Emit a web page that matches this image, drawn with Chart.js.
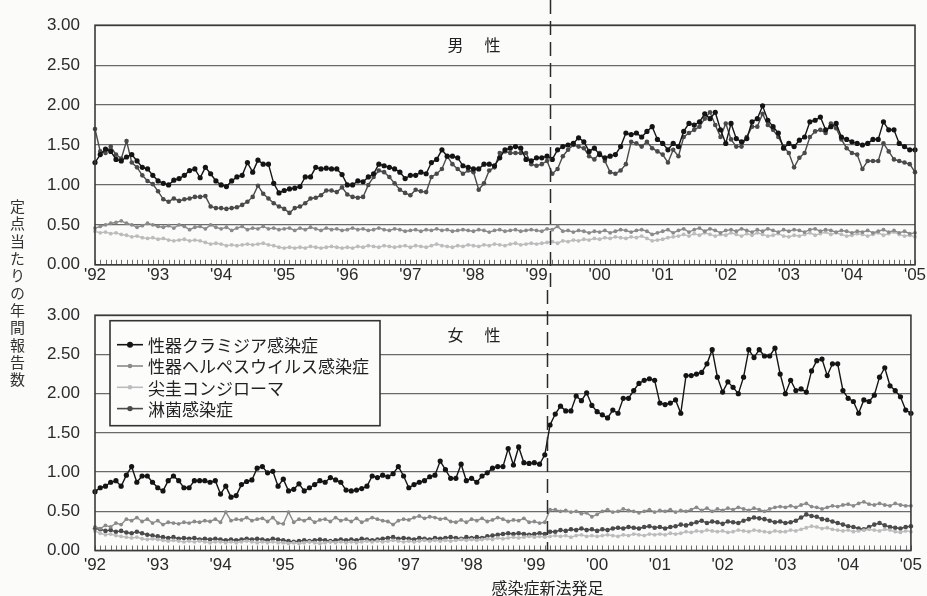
<!DOCTYPE html>
<html lang="ja">
<head>
<meta charset="utf-8">
<title>性感染症 定点当たり年間報告数</title>
<script src="https://cdn.jsdelivr.net/npm/chart.js@4.4.1/dist/chart.umd.min.js"></script>
<style>
  html, body { margin: 0; padding: 0; background: #fbfbf9; }
  #page { position: relative; width: 927px; height: 596px; overflow: hidden; }
  canvas { position: absolute; left: 0; }
  #male { top: 0; }
  #female { top: 290px; }
  #yTitle {
    position: absolute; left: 10px; top: 199px;
    writing-mode: vertical-rl;
    font-family: "Noto Sans CJK JP"; font-size: 15px; line-height: 15px;
    letter-spacing: 2.3px; color: #333;
  }
</style>
</head>
<body>
<div id="page">
  <canvas id="male" width="927" height="290"></canvas>
  <canvas id="female" width="927" height="306"></canvas>
  <div id="yTitle">定点当たりの年間報告数</div>
</div>
<script>
// Monthly reports per sentinel site, Jan 1992 – Jan 2005 (one value per month)
const yearLabels = ["'92","'93","'94","'95","'96","'97","'98","'99","'00","'01","'02","'03","'04","'05"];
const seriesNames = ['性器クラミジア感染症', '性器ヘルペスウイルス感染症', '尖圭コンジローマ', '淋菌感染症'];
const panelTitles = ['男 性', '女 性'];
const lawCaption = '感染症新法発足';
const lawMonth = 86.5; // April 1999, months after Jan 1992

const maleChlamydia = [
  1.28,1.38,1.45,1.42,1.32,1.30,1.35,1.38,1.30,1.22,1.20,1.12,
  1.05,1.02,1.00,1.06,1.08,1.12,1.18,1.20,1.09,1.22,1.14,1.05,
  1.00,0.98,1.05,1.10,1.12,1.28,1.16,1.31,1.26,1.26,1.02,0.90,
  0.93,0.95,0.96,0.98,1.10,1.10,1.22,1.20,1.21,1.20,1.20,1.13,
  1.00,1.00,1.05,1.04,1.10,1.14,1.26,1.24,1.22,1.20,1.16,1.08,
  1.12,1.12,1.16,1.14,1.28,1.32,1.44,1.36,1.36,1.34,1.24,1.22,
  1.20,1.20,1.26,1.26,1.24,1.34,1.44,1.46,1.48,1.46,1.32,1.30,
  1.34,1.34,1.36,1.32,1.44,1.48,1.50,1.52,1.59,1.54,1.42,1.46,
  1.38,1.34,1.36,1.38,1.48,1.65,1.63,1.65,1.60,1.67,1.73,1.57,
  1.52,1.44,1.52,1.48,1.67,1.77,1.75,1.79,1.89,1.83,1.91,1.69,
  1.52,1.77,1.58,1.54,1.58,1.79,1.83,1.99,1.81,1.73,1.65,1.46,
  1.52,1.48,1.56,1.60,1.79,1.81,1.85,1.69,1.73,1.77,1.60,1.57,
  1.54,1.52,1.50,1.52,1.57,1.57,1.79,1.69,1.69,1.52,1.48,1.44,
  1.44
];
const maleHerpes = [
  0.46,0.48,0.50,0.52,0.53,0.55,0.52,0.50,0.47,0.49,0.52,0.50,
  0.48,0.47,0.49,0.46,0.50,0.48,0.44,0.47,0.48,0.45,0.50,0.47,
  0.45,0.47,0.43,0.46,0.48,0.44,0.46,0.45,0.48,0.45,0.46,0.44,
  0.45,0.46,0.43,0.46,0.44,0.47,0.45,0.43,0.46,0.44,0.45,0.43,
  0.44,0.46,0.44,0.45,0.43,0.44,0.46,0.44,0.43,0.45,0.44,0.42,
  0.43,0.44,0.42,0.44,0.43,0.45,0.43,0.44,0.42,0.43,0.44,0.43,
  0.42,0.44,0.43,0.41,0.43,0.44,0.42,0.43,0.44,0.42,0.43,0.44,
  0.43,0.42,0.45,0.44,0.48,0.42,0.43,0.41,0.43,0.42,0.40,0.42,
  0.41,0.43,0.40,0.42,0.44,0.43,0.41,0.43,0.44,0.42,0.38,0.40,
  0.42,0.44,0.40,0.43,0.45,0.41,0.44,0.46,0.42,0.45,0.43,0.40,
  0.43,0.44,0.42,0.45,0.43,0.41,0.44,0.42,0.45,0.43,0.41,0.44,
  0.42,0.44,0.43,0.41,0.44,0.45,0.42,0.44,0.43,0.41,0.43,0.42,
  0.40,0.42,0.41,0.43,0.40,0.42,0.44,0.41,0.43,0.40,0.42,0.39,
  0.40
];
const maleCondyloma = [
  0.42,0.40,0.41,0.39,0.40,0.38,0.37,0.35,0.36,0.34,0.33,0.34,
  0.32,0.33,0.31,0.30,0.31,0.32,0.30,0.31,0.30,0.28,0.26,0.27,
  0.26,0.24,0.25,0.24,0.25,0.26,0.25,0.26,0.27,0.25,0.24,0.22,
  0.21,0.22,0.21,0.22,0.21,0.23,0.22,0.21,0.22,0.23,0.22,0.21,
  0.22,0.21,0.23,0.22,0.24,0.23,0.22,0.24,0.23,0.22,0.23,0.24,
  0.22,0.24,0.23,0.22,0.24,0.26,0.24,0.23,0.22,0.24,0.23,0.25,
  0.24,0.23,0.25,0.24,0.26,0.25,0.24,0.26,0.27,0.25,0.26,0.27,
  0.26,0.27,0.28,0.29,0.27,0.30,0.29,0.31,0.30,0.32,0.31,0.33,
  0.32,0.34,0.33,0.35,0.34,0.33,0.35,0.34,0.36,0.33,0.30,0.31,
  0.32,0.34,0.35,0.36,0.38,0.36,0.39,0.37,0.40,0.38,0.36,0.38,
  0.37,0.40,0.38,0.36,0.39,0.37,0.40,0.38,0.36,0.37,0.39,0.36,
  0.35,0.37,0.36,0.38,0.40,0.37,0.39,0.41,0.38,0.40,0.38,0.36,
  0.37,0.39,0.38,0.36,0.38,0.40,0.37,0.39,0.41,0.38,0.36,0.37,
  0.35
];
const maleGonorrhea = [
  1.70,1.42,1.40,1.48,1.38,1.33,1.55,1.28,1.22,1.12,1.05,1.01,
  0.92,0.82,0.79,0.83,0.80,0.82,0.83,0.85,0.85,0.86,0.73,0.71,
  0.71,0.70,0.71,0.72,0.75,0.79,0.85,0.99,0.89,0.83,0.77,0.73,
  0.70,0.65,0.71,0.73,0.77,0.83,0.84,0.87,0.93,0.93,0.91,0.97,
  0.88,0.85,0.84,0.85,1.00,1.10,1.18,1.16,1.10,1.02,0.94,0.90,
  0.87,0.94,0.92,0.91,1.10,1.14,1.20,1.36,1.26,1.20,1.14,1.18,
  1.16,0.94,1.02,1.18,1.22,1.40,1.42,1.40,1.40,1.40,1.40,1.26,
  1.24,1.26,1.30,1.14,1.20,1.36,1.44,1.50,1.48,1.46,1.36,1.32,
  1.40,1.30,1.16,1.14,1.18,1.26,1.54,1.52,1.48,1.54,1.46,1.42,
  1.38,1.28,1.44,1.36,1.60,1.65,1.69,1.73,1.83,1.91,1.75,1.60,
  1.77,1.57,1.48,1.48,1.60,1.73,1.73,1.89,1.75,1.69,1.60,1.48,
  1.40,1.22,1.34,1.40,1.60,1.67,1.69,1.65,1.77,1.71,1.57,1.46,
  1.40,1.38,1.20,1.30,1.30,1.30,1.52,1.42,1.32,1.30,1.28,1.26,
  1.16
];

const femaleChlamydia = [
  0.75,0.80,0.82,0.87,0.89,0.82,0.96,1.07,0.87,0.95,0.95,0.87,
  0.80,0.76,0.89,0.95,0.89,0.80,0.80,0.89,0.89,0.89,0.87,0.89,
  0.72,0.82,0.68,0.70,0.84,0.88,0.90,1.05,1.07,0.99,1.01,0.82,
  0.91,0.76,0.78,0.85,0.76,0.80,0.84,0.89,0.87,0.93,0.90,0.87,
  0.77,0.76,0.77,0.79,0.82,0.95,0.93,0.96,0.94,0.98,1.07,0.95,
  0.80,0.84,0.87,0.89,0.94,0.96,1.14,1.03,0.92,0.92,1.10,0.89,
  0.92,0.87,0.95,0.99,1.05,1.07,1.07,1.30,1.09,1.32,1.12,1.11,
  1.12,1.10,1.22,1.60,1.74,1.84,1.78,1.78,1.97,1.91,2.01,1.85,
  1.77,1.73,1.69,1.79,1.75,1.94,1.94,2.04,2.13,2.17,2.19,2.17,
  1.88,1.86,1.88,1.92,1.75,2.23,2.23,2.25,2.27,2.38,2.56,2.21,
  2.02,2.15,2.08,2.00,2.21,2.56,2.46,2.56,2.48,2.48,2.58,2.25,
  2.00,2.17,2.04,2.06,2.02,2.29,2.42,2.44,2.23,2.38,2.38,2.04,
  1.94,1.90,1.75,1.92,1.90,1.98,2.21,2.33,2.10,2.04,1.96,1.79,
  1.75
];
const femaleHerpes = [
  0.30,0.28,0.32,0.30,0.35,0.33,0.40,0.38,0.42,0.37,0.40,0.35,
  0.38,0.33,0.36,0.35,0.34,0.36,0.35,0.37,0.36,0.38,0.37,0.40,
  0.36,0.49,0.38,0.40,0.39,0.42,0.38,0.40,0.41,0.37,0.42,0.35,
  0.34,0.49,0.36,0.40,0.38,0.41,0.36,0.39,0.40,0.37,0.42,0.38,
  0.40,0.37,0.41,0.36,0.39,0.42,0.40,0.38,0.37,0.33,0.38,0.40,
  0.39,0.42,0.44,0.41,0.43,0.42,0.40,0.41,0.37,0.36,0.39,0.36,
  0.40,0.38,0.41,0.37,0.39,0.42,0.40,0.37,0.39,0.38,0.41,0.36,
  0.37,0.35,0.36,0.52,0.52,0.50,0.51,0.49,0.50,0.47,0.48,0.43,
  0.46,0.50,0.52,0.49,0.50,0.53,0.51,0.50,0.48,0.50,0.52,0.49,
  0.51,0.50,0.52,0.49,0.51,0.50,0.52,0.55,0.51,0.54,0.50,0.53,
  0.51,0.54,0.52,0.55,0.53,0.51,0.54,0.52,0.50,0.53,0.55,0.56,
  0.55,0.57,0.55,0.58,0.60,0.56,0.55,0.53,0.55,0.57,0.56,0.58,
  0.59,0.57,0.60,0.62,0.59,0.58,0.60,0.58,0.57,0.60,0.58,0.57,
  0.57
];
const femaleCondyloma = [
  0.25,0.22,0.20,0.21,0.19,0.18,0.17,0.16,0.17,0.15,0.14,0.15,
  0.14,0.13,0.12,0.13,0.12,0.11,0.12,0.11,0.12,0.11,0.10,0.11,
  0.11,0.10,0.11,0.10,0.11,0.12,0.11,0.10,0.11,0.10,0.11,0.10,
  0.10,0.09,0.10,0.09,0.10,0.11,0.10,0.09,0.10,0.11,0.10,0.11,
  0.10,0.11,0.10,0.11,0.12,0.11,0.12,0.11,0.12,0.13,0.12,0.11,
  0.12,0.11,0.12,0.13,0.12,0.13,0.12,0.13,0.12,0.13,0.14,0.13,
  0.14,0.13,0.14,0.15,0.14,0.16,0.15,0.16,0.17,0.16,0.17,0.18,
  0.17,0.18,0.17,0.18,0.19,0.18,0.19,0.17,0.19,0.20,0.18,0.19,
  0.18,0.19,0.20,0.19,0.18,0.20,0.19,0.21,0.20,0.19,0.21,0.20,
  0.21,0.20,0.22,0.21,0.22,0.24,0.23,0.25,0.24,0.26,0.25,0.24,
  0.25,0.23,0.24,0.26,0.25,0.24,0.26,0.25,0.24,0.23,0.25,0.24,
  0.24,0.26,0.25,0.27,0.29,0.31,0.30,0.28,0.29,0.27,0.26,0.25,
  0.26,0.24,0.25,0.26,0.27,0.26,0.25,0.27,0.26,0.24,0.23,0.25,
  0.24
];
const femaleGonorrhea = [
  0.28,0.27,0.25,0.26,0.24,0.25,0.23,0.22,0.24,0.22,0.20,0.19,
  0.18,0.17,0.16,0.17,0.15,0.16,0.15,0.16,0.14,0.15,0.14,0.15,
  0.14,0.13,0.14,0.13,0.14,0.15,0.14,0.15,0.14,0.13,0.15,0.14,
  0.13,0.12,0.11,0.12,0.13,0.12,0.13,0.14,0.13,0.12,0.13,0.14,
  0.13,0.14,0.13,0.15,0.14,0.13,0.14,0.15,0.16,0.17,0.15,0.16,
  0.15,0.14,0.16,0.15,0.14,0.16,0.15,0.16,0.17,0.16,0.15,0.17,
  0.16,0.17,0.16,0.18,0.19,0.20,0.21,0.22,0.21,0.22,0.21,0.20,
  0.21,0.22,0.21,0.24,0.24,0.26,0.25,0.27,0.26,0.28,0.26,0.27,
  0.25,0.27,0.26,0.28,0.29,0.28,0.30,0.29,0.28,0.30,0.31,0.29,
  0.30,0.28,0.30,0.31,0.33,0.32,0.34,0.36,0.38,0.35,0.37,0.36,
  0.34,0.37,0.36,0.35,0.38,0.40,0.42,0.41,0.40,0.38,0.36,0.37,
  0.35,0.36,0.38,0.42,0.46,0.44,0.43,0.40,0.39,0.37,0.35,0.33,
  0.31,0.30,0.28,0.27,0.30,0.33,0.35,0.32,0.30,0.29,0.28,0.30,
  0.31
];

// Line / marker look for each disease, in legend order
const seriesStyle = [
  { color: '#141414', radius: 2.6 },
  { color: '#8a8a8a', radius: 1.9 },
  { color: '#bcbcbc', radius: 1.9 },
  { color: '#4a4a4a', radius: 2.3 }
];

const FONT_NUM = '"Liberation Sans", Arial, sans-serif';
const FONT_JP = '"Noto Sans CJK JP", "Noto Sans CJK SC", sans-serif';

function buildDatasets(seriesValues) {
  return seriesValues.map((vals, k) => ({
    label: seriesNames[k],
    data: vals.map((v, i) => ({ x: i, y: v })),
    borderColor: seriesStyle[k].color,
    backgroundColor: seriesStyle[k].color,
    pointBackgroundColor: seriesStyle[k].color,
    pointBorderColor: seriesStyle[k].color,
    pointBorderWidth: 0,
    pointRadius: seriesStyle[k].radius,
    borderWidth: 1.4,
    tension: 0,
    clip: false
  }));
}

// Frame, monthly ticks, law-enforcement marker, panel title, legend and caption
const panelDecor = {
  id: 'panelDecor',
  beforeDatasetsDraw(chart) {
    const { ctx, chartArea: a, scales: { x } } = chart;
    ctx.save();
    ctx.strokeStyle = '#6e6e6e';
    ctx.lineWidth = 1;
    ctx.beginPath();
    for (let m = x.min; m <= x.max; m++) {
      const px = Math.round(x.getPixelForValue(m)) + 0.5;
      ctx.moveTo(px, a.bottom);
      ctx.lineTo(px, a.bottom - 5);
    }
    ctx.stroke();
    ctx.restore();
  },
  afterDatasetsDraw(chart, args, opts) {
    const { ctx, chartArea: a, scales: { x } } = chart;
    ctx.save();

    ctx.strokeStyle = '#3a3a3a';
    ctx.lineWidth = 1.6;
    ctx.strokeRect(a.left, a.top, a.right - a.left, a.bottom - a.top);

    const lx = Math.round(x.getPixelForValue(lawMonth)) + 0.5;
    ctx.setLineDash([14, 7]);
    ctx.lineWidth = 1.5;
    ctx.strokeStyle = '#2a2a2a';
    ctx.beginPath();
    ctx.moveTo(lx, 0);
    ctx.lineTo(lx, opts.dashThrough ? chart.height : a.bottom);
    ctx.stroke();
    ctx.setLineDash([]);

    ctx.fillStyle = '#222';
    ctx.font = '16px ' + FONT_JP;
    ctx.textAlign = 'center';
    ctx.textBaseline = 'middle';
    const parts = opts.title.split(' ');
    const cx = a.left + 379;
    parts.forEach((ch, i) => {
      ctx.fillText(ch, cx + (i - (parts.length - 1) / 2) * 37, a.top + 20);
    });

    if (opts.legend) {
      const bx = a.left + 15, by = a.top + 5.5, bw = 270, bh = 105;
      ctx.fillStyle = '#fcfcfb';
      ctx.fillRect(bx, by, bw, bh);
      ctx.strokeStyle = '#333';
      ctx.lineWidth = 1.6;
      ctx.strokeRect(bx, by, bw, bh);
      chart.data.datasets.forEach((ds, i) => {
        const y = by + 24 + i * 21.3;
        ctx.strokeStyle = ds.borderColor;
        ctx.lineWidth = 1.6;
        ctx.beginPath();
        ctx.moveTo(bx + 7, y);
        ctx.lineTo(bx + 33, y);
        ctx.stroke();
        ctx.fillStyle = ds.pointBackgroundColor;
        ctx.beginPath();
        ctx.arc(bx + 20, y, ds.pointRadius + 0.4, 0, Math.PI * 2);
        ctx.fill();
        ctx.fillStyle = '#222';
        ctx.font = '17px ' + FONT_JP;
        ctx.textAlign = 'left';
        ctx.textBaseline = 'middle';
        // keep each entry inside the box
        ctx.fillText(ds.label, bx + 38, y + 1, bw - 45);
      });
    }

    if (opts.caption) {
      ctx.fillStyle = '#222';
      ctx.font = '16px ' + FONT_JP;
      ctx.textAlign = 'center';
      ctx.textBaseline = 'middle';
      ctx.fillText(opts.caption, lx, a.bottom + 37);
    }
    ctx.restore();
  }
};

function makePanel(canvasId, seriesValues, cfg) {
  return new Chart(document.getElementById(canvasId), {
    type: 'line',
    data: { datasets: buildDatasets(seriesValues) },
    plugins: [panelDecor],
    options: {
      responsive: false,
      animation: false,
      events: [],
      layout: { padding: { top: cfg.padTop, right: 12, left: 0, bottom: 0 } },
      scales: {
        x: {
          type: 'linear',
          min: 0,
          max: maleChlamydia.length - 1,
          grid: { display: false, drawTicks: false },
          border: { display: false },
          afterFit: s => { s.height = cfg.xHeight; },
          ticks: {
            stepSize: 12,
            autoSkip: false,
            maxRotation: 0,
            padding: cfg.xPad,
            color: '#2a2a2a',
            font: { family: FONT_NUM, size: 17 },
            callback: v => yearLabels[Math.round(v / 12)]
          }
        },
        y: {
          min: 0,
          max: 3,
          grid: { color: '#6a6a6a', lineWidth: 1.2, drawTicks: false },
          border: { display: false },
          afterFit: s => { s.width = 95; },
          ticks: {
            stepSize: 0.5,
            padding: 15,
            color: '#2a2a2a',
            font: { family: FONT_NUM, size: 17 },
            callback: v => v.toFixed(2)
          }
        }
      },
      plugins: {
        legend: { display: false },
        tooltip: { enabled: false },
        panelDecor: cfg.decor
      }
    }
  });
}

makePanel('male',
  [maleChlamydia, maleHerpes, maleCondyloma, maleGonorrhea],
  { padTop: 19, xHeight: 25, xPad: 0,
    decor: { title: panelTitles[0], legend: false, dashThrough: true } });

makePanel('female',
  [femaleChlamydia, femaleHerpes, femaleCondyloma, femaleGonorrhea],
  { padTop: 20.5, xHeight: 45.5, xPad: 5,
    decor: { title: panelTitles[1], legend: true, dashThrough: false, caption: lawCaption } });
</script>
</body>
</html>
